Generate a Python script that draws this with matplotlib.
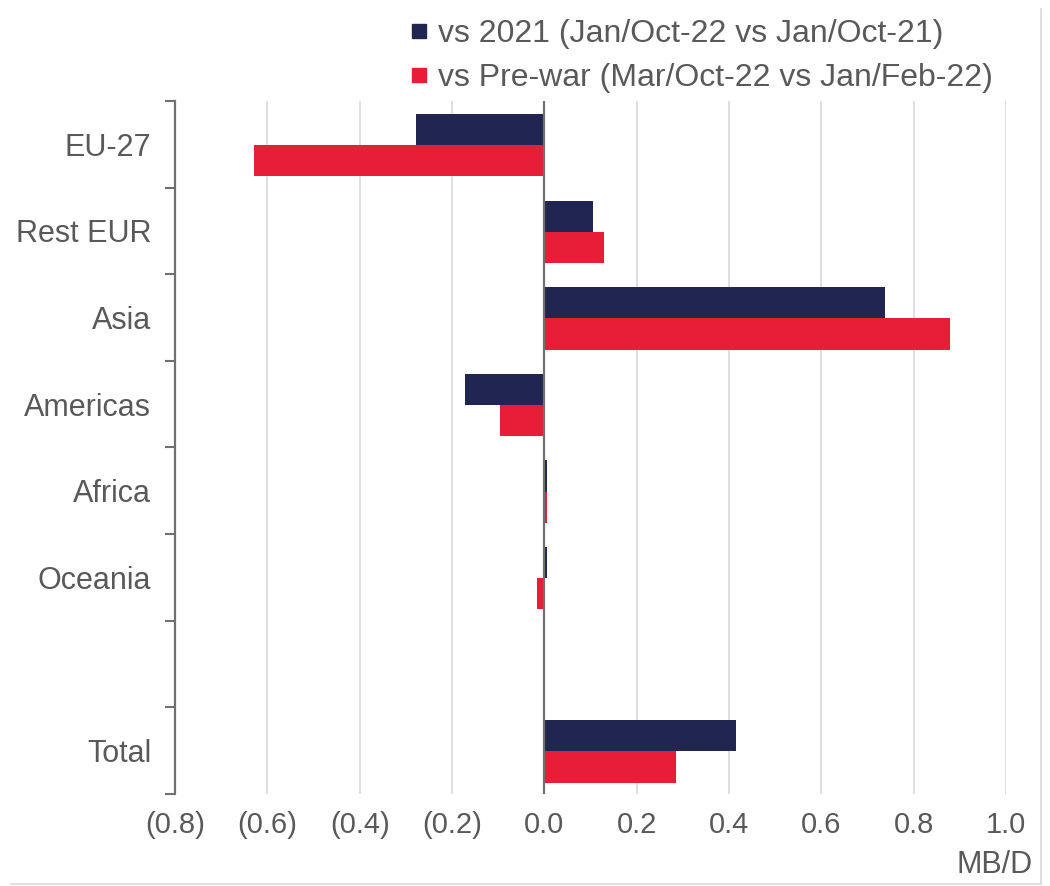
import numpy as np
import matplotlib.pyplot as plt
from matplotlib.lines import Line2D
from matplotlib.ticker import FixedLocator, FuncFormatter

plt.rcParams['font.family'] = ['Liberation Sans', 'DejaVu Sans']

regions = ["EU-27", "Rest EUR", "Asia", "Americas", "Africa", "Oceania", "", "Total"]
vs2021 = [-0.279, 0.106, 0.738, -0.171, 0.005, 0.005, np.nan, 0.416]
vsPrewar = [-0.630, 0.130, 0.879, -0.095, 0.005, -0.015, np.nan, 0.286]
seriesNames = ["vs 2021 (Jan/Oct-22 vs Jan/Oct-21)",
               "vs Pre-war (Mar/Oct-22 vs Jan/Feb-22)"]
xTicks = [-0.8, -0.6, -0.4, -0.2, 0.0, 0.2, 0.4, 0.6, 0.8, 1.0]

navy = '#20264f'
red = '#e81d37'
txt = '#595959'

fig = plt.figure(figsize=(10.5, 8.86), dpi=100)
ax = fig.add_axes([0.1667, 0.104, 0.7914, 0.782])

pos = np.arange(len(regions))
h = 0.36
ax.barh(pos - h/2 + 0.01, vs2021, height=h, color=navy, zorder=3)
ax.barh(pos + h/2 + 0.01, vsPrewar, height=h, color=red, zorder=3)

ax.set_xlim(-0.8, 1.0)
ax.set_ylim(len(regions) - 0.5, -0.5)

# vertical gridlines + zero line
for x in xTicks[1:]:
    if x == 0:
        ax.axvline(0, color='#707070', lw=1.6, zorder=4)
    else:
        ax.axvline(x, color='#d9d9d9', lw=1.2, zorder=1)

ax.xaxis.set_major_locator(FixedLocator(xTicks))
ax.xaxis.set_major_formatter(FuncFormatter(
    lambda v, p: '(%.1f)' % abs(v) if v < -1e-9 else '%.1f' % abs(v)))
ax.tick_params(axis='x', length=0, labelsize=21, labelcolor=txt, pad=12)

ax.set_yticks(pos)
ax.set_yticklabels(regions)
ax.set_yticks(np.arange(-0.5, len(regions)), minor=True)
ax.tick_params(axis='y', which='major', length=0, labelsize=22, labelcolor=txt, pad=17)
ax.tick_params(axis='y', which='minor', length=7, width=1.5, color='#707070')

for s in ['top', 'right', 'bottom']:
    ax.spines[s].set_visible(False)
ax.spines['left'].set_color('#707070')
ax.spines['left'].set_linewidth(1.6)

handles = [Line2D([], [], marker='s', ls='', color=c, markersize=10) for c in (navy, red)]
fig.legend(handles, seriesNames, loc='upper left', bbox_to_anchor=(0.3776, 0.993),
           frameon=False, fontsize=23, labelcolor=txt, handlelength=0.6,
           handletextpad=0.3, labelspacing=0.45, borderaxespad=0)

fig.text(0.983, 0.0147, 'MB/D', ha='right', va='baseline', fontsize=22, color=txt)

# thin outer frame
fig.add_artist(Line2D([0.01, 0.991], [0.002, 0.002], color='#d9d9d9', lw=1.2))
fig.add_artist(Line2D([0.991, 0.991], [0.002, 0.99], color='#d9d9d9', lw=1.2))

fig.savefig('out.png', dpi=100)
